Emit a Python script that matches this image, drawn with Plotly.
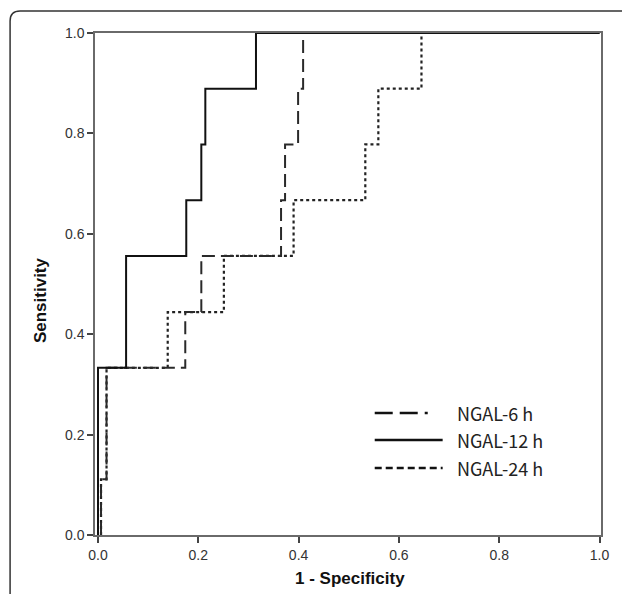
import plotly.graph_objects as go

# ROC corner points (1 - specificity, sensitivity)
ngal6_fpr = [0.006, 0.006, 0.017, 0.174, 0.206, 0.365, 0.373, 0.399, 0.409, 1.0]
ngal6_tpr = [0.0, 0.111, 0.333, 0.444, 0.556, 0.667, 0.778, 0.889, 1.0, 1.0]

ngal12_fpr = [0.0, 0.0, 0.056, 0.176, 0.206, 0.214, 0.315, 1.0]
ngal12_tpr = [0.0, 0.333, 0.556, 0.667, 0.778, 0.889, 1.0, 1.0]

ngal24_fpr = [0.006, 0.006, 0.017, 0.139, 0.251, 0.390, 0.533, 0.559, 0.645, 1.0]
ngal24_tpr = [0.0, 0.111, 0.333, 0.444, 0.556, 0.667, 0.778, 0.889, 1.0, 1.0]

tick_vals = [0.0, 0.2, 0.4, 0.6, 0.8, 1.0]
tick_text = ["0.0", "0.2", "0.4", "0.6", "0.8", "1.0"]
legend_names = ["NGAL-6 h", "NGAL-12 h", "NGAL-24 h"]

W, H = 622, 594
L, R, T, B = 95, 20.5, 33, 59
pw, ph = W - L - R, H - T - B

def px_x(p):
    return (p - L) / pw

def px_y(p):
    return (H - B - p) / ph

fig = go.Figure()
fig.add_trace(go.Scatter(x=ngal24_fpr, y=ngal24_tpr, mode="lines", line_shape="hv",
                         line=dict(color="#222222", width=2.2, dash="3px,3px"), name=legend_names[2]))
fig.add_trace(go.Scatter(x=ngal6_fpr, y=ngal6_tpr, mode="lines", line_shape="hv",
                         line=dict(color="#2a2a2a", width=2, dash="13px,6px"), name=legend_names[0]))
fig.add_trace(go.Scatter(x=ngal12_fpr, y=ngal12_tpr, mode="lines", line_shape="hv",
                         line=dict(color="#111111", width=2), name=legend_names[1]))

axis_common = dict(showgrid=False, zeroline=False, showline=True, linecolor="#6a6a6a", linewidth=1.5,
                   mirror=True, ticks="outside", ticklen=6, tickwidth=1.5, tickcolor="#444",
                   tickvals=tick_vals, ticktext=tick_text,
                   tickfont=dict(family="Liberation Sans, Arial", size=14, color="#333"))
fig.update_xaxes(range=[-0.006, 1.003], **axis_common)
fig.update_yaxes(range=[0, 1.0], **axis_common)

shapes = []
# outer rounded frame (left and top edges)
x0 = px_x(10); yt = px_y(11); yb = px_y(620); xr = px_x(640)
rx = 10 / pw; ry = 10 / ph
shapes.append(dict(type="path", xref="paper", yref="paper",
                   path=f"M {x0},{yb} L {x0},{yt - ry} Q {x0},{yt} {x0 + rx},{yt} L {xr},{yt}",
                   line=dict(color="#333", width=1.5)))

# manual legend
rows = [413, 440, 468]
styles = [dict(color="#111", width=2.5, dash="18px,7px,18px,7px,3px,40px"),
          dict(color="#111", width=2.5),
          dict(color="#111", width=2.5, dash="7px,4px")]
annotations = []
for name, yy, st in zip(legend_names, rows, styles):
    shapes.append(dict(type="line", xref="paper", yref="paper",
                       x0=px_x(375), x1=px_x(443), y0=px_y(yy), y1=px_y(yy), line=st))
    annotations.append(dict(x=px_x(455), y=px_y(yy), xref="paper", yref="paper", text=name,
                            showarrow=False, xanchor="left", yanchor="middle",
                            font=dict(family="Noto Sans CJK KR, Noto Sans", size=18, color="#222")))

annotations.append(dict(x=px_x(350), y=px_y(578), xref="paper", yref="paper", text="<b>1 - Specificity</b>",
                        showarrow=False, xanchor="center", yanchor="middle",
                        font=dict(family="Liberation Sans, Arial", size=17, color="#111")))
annotations.append(dict(x=px_x(40), y=px_y(300), xref="paper", yref="paper", text="<b>Sensitivity</b>",
                        showarrow=False, xanchor="center", yanchor="middle", textangle=-90,
                        font=dict(family="Liberation Sans, Arial", size=17, color="#111")))

fig.update_layout(width=W, height=H, margin=dict(l=L, r=R, t=T, b=B, pad=0),
                  paper_bgcolor="white", plot_bgcolor="white", showlegend=False,
                  shapes=shapes, annotations=annotations)

fig.write_html("out.html", config={"displayModeBar": False},
               post_script="document.body.style.margin='0';document.body.style.overflow='hidden';")
